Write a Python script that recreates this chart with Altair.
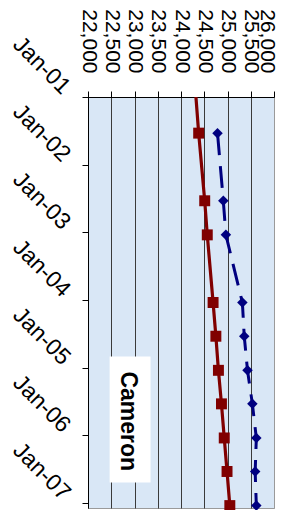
import altair as alt
import pandas as pd

# ---- data ----
dates = ["2001-07-15", "2002-07-15", "2003-01-15", "2004-01-15", "2004-07-15",
         "2005-01-15", "2005-07-15", "2006-01-15", "2006-07-15", "2007-01-15"]
red_values = [24380, 24510, 24565, 24690, 24750, 24805, 24870, 24930, 24990, 25050]
blue_values = [24785, 24910, 24965, 25320, 25360, 25430, 25535, 25620, 25595, 25620]
# earlier red point, outside the plotted range (line enters from the top edge)
red_lead_date = "2000-07-15"
red_lead_value = 24270

value_ticks = list(range(22000, 26001, 500))
year_ticks = list(range(2001, 2008))

label_text = "Cameron"

FONT = "Liberation Sans"
RED = "#800000"
BLUE = "#000080"

red_df = pd.DataFrame({"date": dates, "value": red_values})
red_line_df = pd.DataFrame({"date": [red_lead_date] + dates,
                            "value": [red_lead_value] + red_values})
blue_df = pd.DataFrame({"date": dates, "value": blue_values})

def dt(y, m, d):
    return alt.DateTime(year=y, month=m, date=d, utc=True)

x_axis = alt.Axis(
    orient="top", values=value_ticks, format=",d", title=None,
    labelAngle=90, labelAlign="right", labelBaseline="middle",
    labelPadding=18, labelFontSize=21, labelFont=FONT, labelColor="black",
    labelFlush=False, labelOverlap=False,
    labelOffset={"condition": {"test": "datum.value == 26000", "value": -8}, "value": 0},
    tickSize=6, tickColor="black", domainColor="black", domainWidth=1,
    grid=True,
    gridColor={"condition": {"test": "datum.value == 26000", "value": "#9a9a9a"}, "value": "#3a3a3a"},
    gridWidth=1,
)
x_scale = alt.Scale(domain=[22000, 26000], nice=False, zero=False)

y_axis = alt.Axis(
    orient="left", values=[dt(y, 1, 1) for y in year_ticks], title=None,
    labelExpr="utcFormat(datum.value, '%b-%y')",
    labelAngle=45, labelAlign="right", labelBaseline="middle",
    labelPadding=16, labelOffset=-7, labelFontSize=23, labelFont=FONT,
    labelColor="black", labelFlush=False, labelOverlap=False,
    tickSize=6, tickColor="black", domainColor="black", grid=False,
)
y_scale = alt.Scale(type="utc", domain=[dt(2001, 1, 1), dt(2007, 1, 28)], reverse=True)

X = alt.X("value:Q", scale=x_scale, axis=x_axis)
Y = alt.Y("date:T", scale=y_scale, axis=y_axis)

box_df = pd.DataFrame({"value": [22465], "value2": [23345],
                       "date": ["2004-11-01"], "date2": ["2006-09-13"]})
text_df = pd.DataFrame({"value": [22855], "date": ["2005-10-17"], "t": [label_text]})

box = alt.Chart(box_df).mark_rect(color="white").encode(
    x=X, x2="value2:Q", y=Y, y2="date2:T")
txt = alt.Chart(text_df).mark_text(
    angle=90, align="center", baseline="middle", fontWeight="bold",
    fontSize=23, font=FONT, color="black").encode(
    x=X, y=Y, text="t:N")

red_line = alt.Chart(red_line_df).mark_line(color=RED, strokeWidth=3.2, clip=True).encode(
    x=X, y=Y)
red_pts = alt.Chart(red_df).mark_point(shape="square", filled=True, size=120,
                                       color=RED, opacity=1).encode(x=X, y=Y)
blue_line = alt.Chart(blue_df).mark_line(color=BLUE, strokeWidth=3,
                                         strokeDash=[22, 11]).encode(x=X, y=Y)
blue_pts = alt.Chart(blue_df).mark_point(shape="diamond", filled=True, size=110,
                                         color=BLUE, opacity=1).encode(x=X, y=Y)

chart = alt.layer(red_line, box, txt, blue_line, red_pts, blue_pts).properties(
    width=186, height=411,
    autosize=alt.AutoSizeParams(type="none"),
    padding={"left": 80, "top": 89, "right": 5, "bottom": 2},
).configure_view(fill="#d9e7f6", stroke="#9a9a9a", strokeWidth=1)

chart.save("out.html", embed_options={"renderer": "svg", "actions": False})
